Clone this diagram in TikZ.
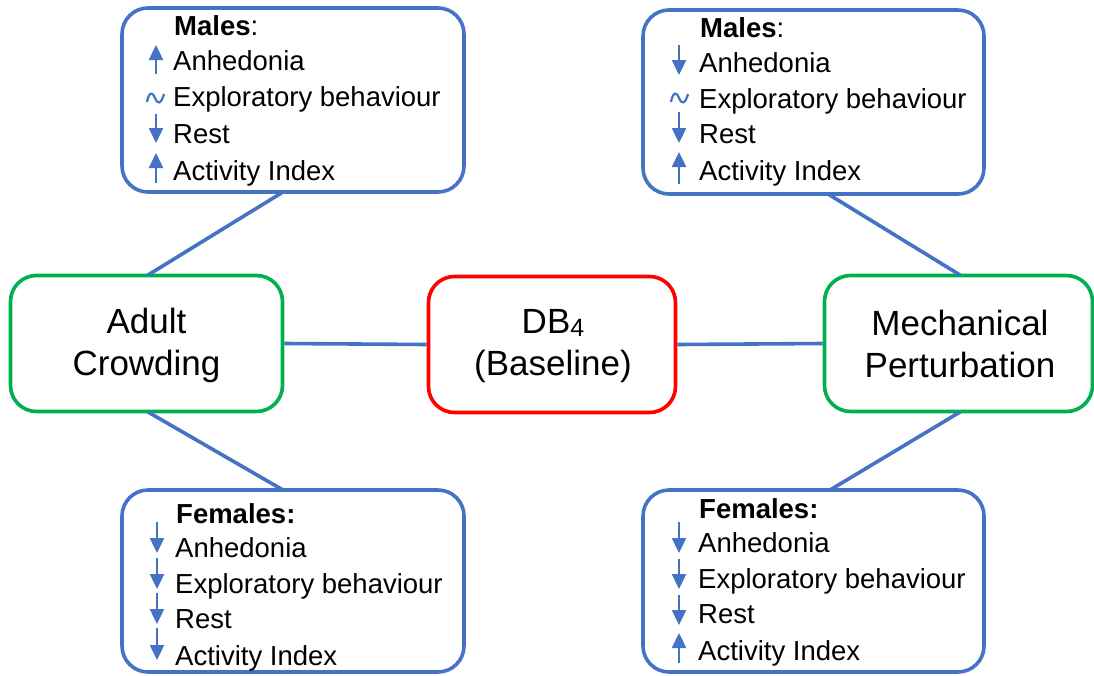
\documentclass[tikz,border=0pt]{standalone}
\usepackage{fontspec}
\setmainfont{Liberation Sans}
\usetikzlibrary{arrows.meta}
\definecolor{lblue}{HTML}{4472C4}
\definecolor{lgreen}{HTML}{00B050}
\definecolor{lred}{HTML}{FF0000}
\tikzset{
  bluebox/.style={draw=lblue, line width=3.6pt, rounded corners=26pt, minimum width=340pt, minimum height=182pt, inner sep=0pt},
  greenbox/.style={draw=lgreen, line width=3.6pt, rounded corners=26pt, minimum width=272pt, minimum height=136pt, inner sep=0pt},
  redbox/.style={draw=lred, line width=3.6pt, rounded corners=26pt, minimum width=247pt, minimum height=136pt, inner sep=0pt},
  bigtxt/.style={font=\fontsize{35}{42}\selectfont, align=center, inner sep=0pt},
  item/.style={anchor=base west, inner sep=0pt, font=\fontsize{27.5}{30}\selectfont},
  conn/.style={draw=lblue, line width=3.6pt},
  uparr/.style={draw=lblue, line width=2.4pt, -{Triangle[length=15pt,width=14pt]}},
  tild/.style={draw=lblue, line width=2.2pt},
}
\begin{document}
\begin{tikzpicture}[x=1pt,y=-1pt]
\useasboundingbox (0,0) rectangle (1094,675);
\fill[white] (0,0) rectangle (1094,675);

% main boxes
\node[greenbox] (ac) at (146.5,343.5) {};
\node[bigtxt] (actxt) at (146.5,345) {Adult\\Crowding};
\node[redbox] (db) at (552,344.5) {};
\node[bigtxt] (dbtxt) at (553,346) {DB{\fontsize{25}{25}\selectfont\raisebox{-3pt}{4}}\\(Baseline)};
\node[greenbox, minimum width=268pt] (mp) at (958.5,343.5) {};
\node[bigtxt] (mptxt) at (960,344) {Mechanical\\Perturbation};

% detail boxes
\node[bluebox, minimum width=342pt, minimum height=184pt] (tl) at (293,100) {};
\node[bluebox, minimum width=341pt, minimum height=184pt] (tr) at (813.5,102) {};
\node[bluebox, minimum width=342pt] (bl) at (293,581) {};
\node[bluebox, minimum width=341pt] (br) at (813.5,581) {};

% connectors
\coordinate (tlb) at (283,192);
\coordinate (act) at (148,275);
\coordinate (acb) at (148,412);
\coordinate (blt) at (283,490);
\coordinate (trb) at (828,194);
\coordinate (mpt) at (960,275);
\coordinate (mpb) at (960,412);
\coordinate (brt) at (830,490);
\draw[conn] (tlb) -- (act);
\draw[conn] (acb) -- (blt);
\draw[conn] (trb) -- (mpt);
\draw[conn] (mpb) -- (brt);
\draw[conn] (ac.east) -- (db.west);
\draw[conn] (db.east) -- (mp.west);

% top-left: males
\node[item] (tl0) at (174,35) {\textbf{Males}:};
\node[item] (tl1) at (173,70) {Anhedonia};
\node[item] (tl2) at (173,106) {Exploratory behaviour};
\node[item] (tl3) at (173,143) {Rest};
\node[item] (tl4) at (173,180) {Activity Index};
\draw[uparr] (156,74) -- (156,45);
\draw[tild] (147,102) .. controls (149,91) and (153,92) .. (155,98) .. controls (157,104) and (161,105) .. (164,94);
\draw[uparr] (156,114) -- (156,143);
\draw[uparr] (156,183) -- (156,153);

% top-right: males
\node[item] (tr0) at (700,37) {\textbf{Males}:};
\node[item] (tr1) at (699,72) {Anhedonia};
\node[item] (tr2) at (699,108) {Exploratory behaviour};
\node[item] (tr3) at (699,143) {Rest};
\node[item] (tr4) at (699,180) {Activity Index};
\draw[uparr] (679,45) -- (679,75);
\draw[tild] (671,102) .. controls (673,91) and (677,92) .. (679,98) .. controls (681,104) and (685,105) .. (688,94);
\draw[uparr] (679,112) -- (679,143);
\draw[uparr] (679,184) -- (679,152);

% bottom-left: females
\node[item] (bl0) at (176,523) {\textbf{Females:}};
\node[item] (bl1) at (175,557) {Anhedonia};
\node[item] (bl2) at (175,593) {Exploratory behaviour};
\node[item] (bl3) at (175,628) {Rest};
\node[item] (bl4) at (175,665) {Activity Index};
\draw[uparr] (157,522) -- (157,553);
\draw[uparr] (157,558) -- (157,589);
\draw[uparr] (157,593) -- (157,624);
\draw[uparr] (157,628) -- (157,660);

% bottom-right: females
\node[item] (br0) at (699,518) {\textbf{Females:}};
\node[item] (br1) at (698,552) {Anhedonia};
\node[item] (br2) at (698,588) {Exploratory behaviour};
\node[item] (br3) at (698,623) {Rest};
\node[item] (br4) at (698,660) {Activity Index};
\draw[uparr] (679,522) -- (679,553);
\draw[uparr] (679,559) -- (679,589);
\draw[uparr] (679,595) -- (679,625);
\draw[uparr] (679,663) -- (679,633);
\end{tikzpicture}
\end{document}
